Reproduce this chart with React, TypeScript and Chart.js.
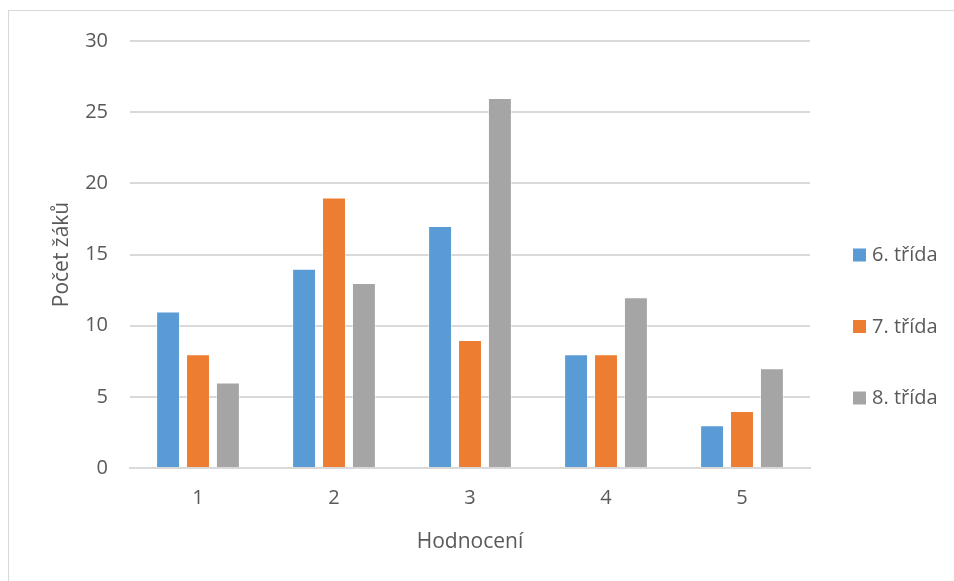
import React, { useEffect, useRef } from "react";
import { Chart, registerables } from "chart.js";

Chart.register(...registerables);

const categories = ["1", "2", "3", "4", "5"];
const seriesNames = ["6. třída", "7. třída", "8. třída"];
const trida6 = [11, 14, 17, 8, 3];
const trida7 = [8, 19, 9, 8, 4];
const trida8 = [6, 13, 26, 12, 7];
const colors = ["#5B9BD5", "#ED7D31", "#A5A5A5"];
const yTicks = [0, 5, 10, 15, 20, 25, 30];

const FONT = "'Open Sans', 'Liberation Sans', sans-serif";
const TEXT = "#595959";

const sideLegend = {
  id: "sideLegend",
  afterDraw(chart: any) {
    const ctx = chart.ctx;
    const area = chart.chartArea;
    const ds = chart.data.datasets;
    const midY = 326;
    const spacing = 71.5;
    ctx.save();
    ctx.font = `20px ${FONT}`;
    ctx.textBaseline = "middle";
    ctx.textAlign = "left";
    ds.forEach((d: any, i: number) => {
      const y = midY + (i - (ds.length - 1) / 2) * spacing;
      ctx.fillStyle = d.backgroundColor;
      ctx.fillRect(area.right + 43, y - 6, 13, 13);
      ctx.fillStyle = TEXT;
      ctx.fillText(d.label, area.right + 62, y + 1);
    });
    ctx.restore();
  },
};

export default function App() {
  const ref = useRef<HTMLCanvasElement>(null);
  useEffect(() => {
    document.body.style.margin = "0";
    const data = [trida6, trida7, trida8];
    const chart = new Chart(ref.current!, {
      type: "bar",
      data: {
        labels: categories,
        datasets: seriesNames.map((name, i) => ({
          label: name,
          data: data[i],
          backgroundColor: colors[i],
          borderColor: "rgba(255,255,255,0.5)",
          borderWidth: 1,
          categoryPercentage: 0.66,
          barPercentage: 0.8,
        })),
      },
      options: {
        animation: false,
        responsive: false,
        layout: { padding: { top: 41, right: 144, left: 0, bottom: 0 } },
        plugins: {
          legend: { display: false },
          tooltip: { enabled: false },
        },
        scales: {
          x: {
            grid: { display: false, drawTicks: false },
            border: { display: true, color: "#d9d9d9", width: 2 },
            ticks: { color: TEXT, font: { family: FONT, size: 20 }, padding: 18 },
            title: {
              display: true,
              text: "Hodnocení",
              color: TEXT,
              font: { family: FONT, size: 21 },
              padding: { top: 10, bottom: 26 },
            },
            afterFit(scale: any) {
              scale.height = 113;
            },
          },
          y: {
            min: 0,
            max: 30,
            afterBuildTicks(scale: any) {
              scale.ticks = yTicks.map((v) => ({ value: v }));
            },
            grid: { color: "#d9d9d9", lineWidth: 2, drawTicks: false },
            border: { display: false },
            ticks: { color: TEXT, font: { family: FONT, size: 20 }, padding: 22 },
            title: {
              display: true,
              text: "Počet žáků",
              color: TEXT,
              font: { family: FONT, size: 21 },
              padding: { top: 49, bottom: 0 },
            },
            afterFit(scale: any) {
              scale.width = 130;
            },
          },
        },
      },
      plugins: [sideLegend],
    });
    return () => chart.destroy();
  }, []);
  return (
    <div style={{ position: "relative", width: 954, height: 581, overflow: "hidden", background: "#fff" }}>
      <div
        style={{
          position: "absolute",
          left: 8,
          top: 10,
          width: 1000,
          height: 1000,
          border: "1px solid #d9d9d9",
          boxSizing: "border-box",
        }}
      />
      <canvas ref={ref} width={954} height={581} style={{ position: "absolute", left: 0, top: 0 }} />
    </div>
  );
}
